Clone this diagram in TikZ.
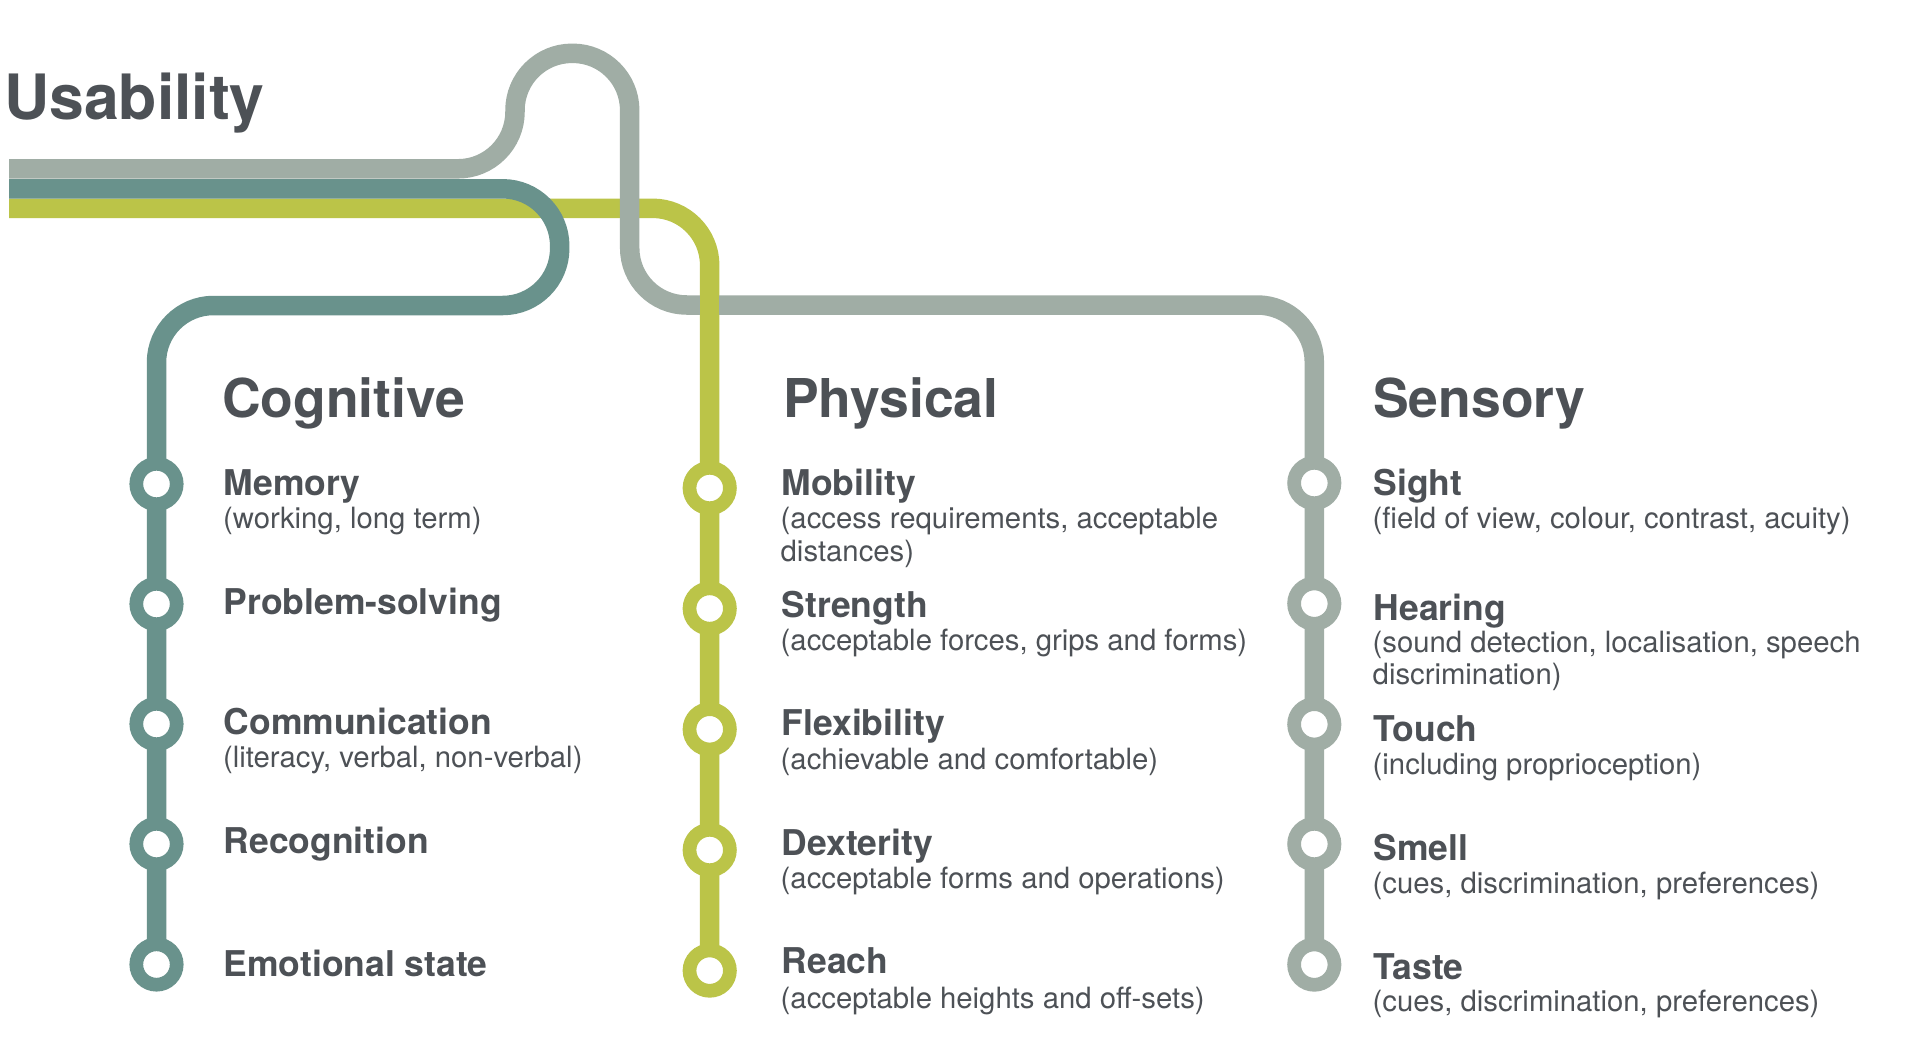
\documentclass[tikz,border=0pt]{standalone}
\usepackage{fontspec}
\setmainfont{TeX Gyre Heros}
\definecolor{lgray}{HTML}{A0ADA5}
\definecolor{lteal}{HTML}{69928C}
\definecolor{lyel}{HTML}{BBC448}
\definecolor{txt}{HTML}{4D5156}
\pgfdeclarelayer{bg}
\pgfsetlayers{bg,main}
\begin{document}
\begin{tikzpicture}[x=1pt,y=-1pt,
  metro/.style={line width=19.5pt, rounded corners=57pt},
  ring/.style={circle, draw=#1, fill=white, line width=13.7pt, minimum size=40.4pt, inner sep=0pt, outer sep=0pt},
  titletxt/.style={anchor=base west, inner sep=0pt, text=txt, font=\bfseries\fontsize{35.5}{40}\selectfont},
  subtxt/.style={anchor=base west, inner sep=0pt, text=txt, font=\fontsize{29.3}{33}\selectfont},
  headtxt/.style={anchor=base west, inner sep=0pt, text=txt, font=\bfseries\fontsize{53.5}{60}\selectfont},
]
\useasboundingbox (0,0) rectangle (1912,1063);

% free ends of the lines
\coordinate (gstart) at (9,168.8);
\coordinate (tstart) at (9,188.8);
\coordinate (ystart) at (9,208.3);

% stations
\node[ring=lteal] (c1) at (156.5,484) {};
\node[ring=lteal] (c2) at (156.5,604) {};
\node[ring=lteal] (c3) at (156.5,724) {};
\node[ring=lteal] (c4) at (156.5,844) {};
\node[ring=lteal] (c5) at (156.5,964.5) {};

\node[ring=lyel] (p1) at (709.7,488) {};
\node[ring=lyel] (p2) at (709.7,608.5) {};
\node[ring=lyel] (p3) at (709.7,729.3) {};
\node[ring=lyel] (p4) at (709.7,850) {};
\node[ring=lyel] (p5) at (709.7,970.6) {};

\node[ring=lgray] (s1) at (1314.3,483) {};
\node[ring=lgray] (s2) at (1314.3,603.6) {};
\node[ring=lgray] (s3) at (1314.3,724.3) {};
\node[ring=lgray] (s4) at (1314.3,844) {};
\node[ring=lgray] (s5) at (1314.3,964.6) {};

\begin{pgfonlayer}{bg}
  \fill[white] (0,0) rectangle (1912,1063);
  % physical (yellow)
  \draw[metro, lyel] (ystart) -- (709.7,208.3) -- (p5.center);
  % sensory (gray)
  \draw[metro, lgray] (gstart) -- (515,168.8) -- (515,53.3) -- (629.7,53.3)
        -- (629.7,305) -- (1314.3,305) -- (s5.center);
  % cognitive (teal)
  \draw[metro, lteal] (tstart) -- (559.7,188.8) -- (559.7,305.5)
        -- (156.5,305.5) -- (c5.center);
  % yellow passes over the gray line
  \draw[line width=19.5pt, lyel] (709.7,275) -- (709.7,335);
\end{pgfonlayer}

% title
\node[anchor=base west, inner sep=0pt, text=txt, font=\bfseries\fontsize{62.5}{70}\selectfont] (usab) at (4,119) {Usability};

% Cognitive
\node[headtxt] (hcog) at (222,417) {Cognitive};
\node[titletxt] (tmem) at (223.5,495) {Memory};
\node[subtxt] (smem) at (223,528) {(working, long term)};
\node[titletxt] (tprob) at (223.5,614.5) {Problem-solving};
\node[titletxt] (tcomm) at (223.5,734) {Communication};
\node[subtxt] (scomm) at (223,767) {(literacy, verbal, non-verbal)};
\node[titletxt] (treco) at (223.5,853.6) {Recognition};
\node[titletxt] (temo) at (223.5,976) {Emotional state};

% Physical
\node[headtxt] (hphy) at (783,417) {Physical};
\node[titletxt] (tmob) at (781.5,495) {Mobility};
\node[subtxt] (smob) at (780.5,528) {(access requirements, acceptable};
\node[subtxt] (smob2) at (780.5,561) {distances)};
\node[titletxt] (tstr) at (781.5,617) {Strength};
\node[subtxt] (sstr) at (780.5,650) {(acceptable forces, grips and forms)};
\node[titletxt] (tflex) at (781.5,735) {Flexibility};
\node[subtxt] (sflex) at (780.5,769) {(achievable and comfortable)};
\node[titletxt] (tdex) at (781.5,855.4) {Dexterity};
\node[subtxt] (sdex) at (780.5,888.6) {(acceptable forms and operations)};
\node[titletxt] (trea) at (781.5,973.7) {Reach};
\node[subtxt] (srea) at (780.5,1008.4) {(acceptable heights and off-sets)};

% Sensory
\node[headtxt] (hsen) at (1373,417) {Sensory};
\node[titletxt] (tsig) at (1373.5,495) {Sight};
\node[subtxt] (ssig) at (1372.5,528) {(field of view, colour, contrast, acuity)};
\node[titletxt] (thea) at (1373.5,620.5) {Hearing};
\node[subtxt] (shea) at (1372.5,652) {(sound detection, localisation, speech};
\node[subtxt] (shea2) at (1372.5,684) {discrimination)};
\node[titletxt] (ttou) at (1373.5,741) {Touch};
\node[subtxt] (stou) at (1372.5,774.3) {(including proprioception)};
\node[titletxt] (tsme) at (1373.5,860) {Smell};
\node[subtxt] (ssme) at (1372.5,893.3) {(cues, discrimination, preferences)};
\node[titletxt] (ttas) at (1373.5,979.2) {Taste};
\node[subtxt] (stas) at (1372.5,1011.7) {(cues, discrimination, preferences)};
\end{tikzpicture}
\end{document}
